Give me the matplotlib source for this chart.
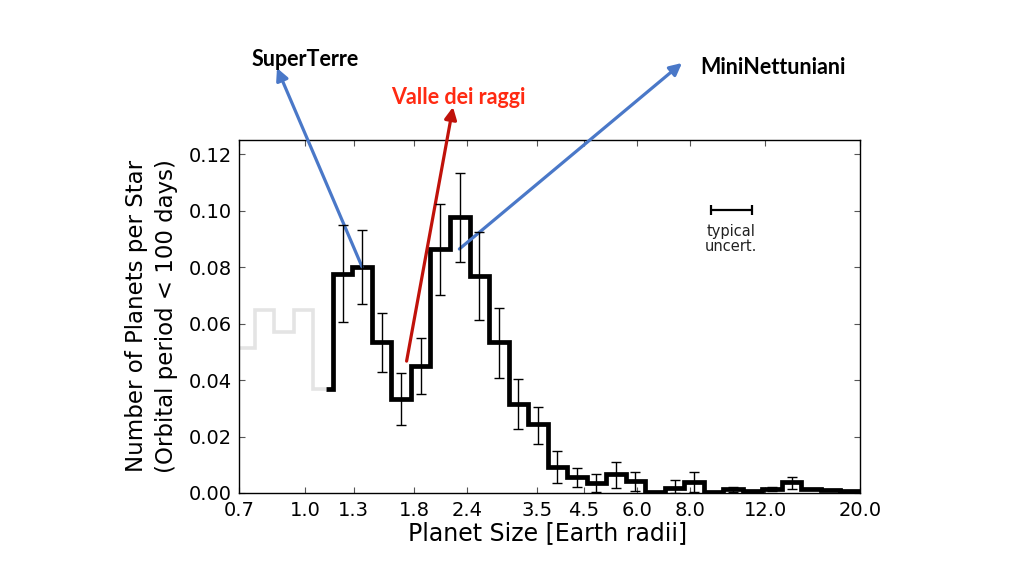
import matplotlib
matplotlib.use("Agg")
import matplotlib.pyplot as plt
import numpy as np

# ---------------- data ----------------
bin_edges = [0.6859, 0.7622, 0.8469, 0.9410, 1.0456, 1.1618, 1.2910, 1.4345,
             1.5939, 1.7711, 1.9680, 2.1867, 2.4298, 2.6998, 2.9999, 3.3334,
             3.7039, 4.1156, 4.5730, 5.0813, 5.6461, 6.2737, 6.9710, 7.7458,
             8.6068, 9.5634, 10.626, 11.808, 13.120, 14.578, 16.199, 17.999,
             20.000]
occurrence = [0.0513, 0.0648, 0.0570, 0.0648, 0.0370, 0.0775, 0.0800, 0.0536,
              0.0333, 0.0450, 0.0864, 0.0978, 0.0769, 0.0534, 0.0315, 0.0243,
              0.0093, 0.0056, 0.0034, 0.0067, 0.0042, 0.0003, 0.0017, 0.0040,
              0.0005, 0.0013, 0.0006, 0.0015, 0.0038, 0.0013, 0.0009, 0.0006]
err_low = [np.nan, np.nan, np.nan, np.nan, np.nan, 0.0604, 0.0670, 0.0427,
           0.0240, 0.0350, 0.0702, 0.0819, 0.0612, 0.0408, 0.0225, 0.0173,
           0.0037, 0.0022, 0.0002, 0.0017, 0.0008, np.nan, 0.0000, 0.0005,
           np.nan, 0.0004, np.nan, 0.0008, 0.0013, np.nan, np.nan, np.nan]
err_high = [np.nan, np.nan, np.nan, np.nan, np.nan, 0.0949, 0.0931, 0.0638,
            0.0424, 0.0550, 0.1023, 0.1134, 0.0925, 0.0656, 0.0404, 0.0306,
            0.0149, 0.0087, 0.0067, 0.0111, 0.0073, np.nan, 0.0045, 0.0075,
            np.nan, 0.0022, np.nan, 0.0022, 0.0057, np.nan, np.nan, np.nan]
completeness_cut = 1.12          # below this radius the histogram is grey
x_ticks = [0.7, 1.0, 1.3, 1.8, 2.4, 3.5, 4.5, 6.0, 8.0, 12.0, 20.0]
y_ticks = [0.00, 0.02, 0.04, 0.06, 0.08, 0.10, 0.12]
typical_uncert_x = [8.95, 11.15]
typical_uncert_y = 0.1002

# ---------------- figure ----------------
plt.rcParams['font.family'] = ['DejaVu Sans']
fig = plt.figure(figsize=(10.24, 5.85), dpi=100)
W, H = 1024, 585
ax = fig.add_axes([239 / W, 1 - 493 / H, (860 - 239) / W, (493 - 140) / H])

edges = np.array(bin_edges)
vals = np.array(occurrence)
n_grey = int(np.searchsorted(edges, completeness_cut))  # bins starting below cut

# grey part
g_edges = np.append(edges[:n_grey], completeness_cut)
g_vals = vals[:n_grey]
ax.stairs(g_vals, g_edges, baseline=None, color='#e4e4e4', lw=2.6)

# black part
b_edges = np.insert(edges[n_grey:], 0, completeness_cut)
b_vals = vals[n_grey - 1:]
sp = ax.stairs(b_vals, b_edges, baseline=None, color='black', lw=3.4, zorder=3)
sp.set_joinstyle('miter')

# error bars at geometric bin centres
centers = np.sqrt(edges[:-1] * edges[1:])
lo = np.array(err_low)
hi = np.array(err_high)
ok = ~np.isnan(lo)
ax.errorbar(centers[ok], vals[ok], yerr=[vals[ok] - lo[ok], hi[ok] - vals[ok]],
            fmt='none', ecolor='black', elinewidth=1.0, capsize=3.5,
            capthick=1.0, zorder=4)

# typical uncertainty marker
tc = np.sqrt(typical_uncert_x[0] * typical_uncert_x[1])
ax.errorbar([tc], [typical_uncert_y],
            xerr=[[tc - typical_uncert_x[0]], [typical_uncert_x[1] - tc]],
            fmt='none', ecolor='black', elinewidth=1.6, capsize=3.5,
            capthick=1.6)
ax.text(tc, 0.0910, 'typical', ha='center', va='baseline', fontsize=10.5,
        color='#222222')
ax.text(tc, 0.0856, 'uncert.', ha='center', va='baseline', fontsize=10.5,
        color='#222222')

ax.set_xscale('log')
ax.set_xlim(0.7, 20.0)
ax.set_ylim(0, 0.125)
ax.set_xticks(x_ticks)
ax.set_xticklabels([f'{v:.1f}' for v in x_ticks])
ax.xaxis.set_minor_locator(matplotlib.ticker.NullLocator())
ax.set_yticks(y_ticks)
ax.set_yticklabels([f'{v:.2f}' for v in y_ticks])
ax.tick_params(axis='both', which='major', direction='in', length=4,
               width=0.8, top=True, right=True, labelsize=14, color='#555555')
ax.tick_params(axis='x', pad=6)
ax.tick_params(axis='y', pad=5)
for s in ax.spines.values():
    s.set_linewidth(1.0)

# axis labels
fig.text(548 / W, 1 - 533 / H, 'Planet Size [Earth radii]', ha='center',
         va='center', fontsize=17)
fig.text(137 / W, 1 - 316 / H, 'Number of Planets per Star', ha='center',
         va='center', rotation=90, fontsize=16.5)
fig.text(167 / W, 1 - 316 / H, '(Orbital period < 100 days)', ha='center',
         va='center', rotation=90, fontsize=16.5)

# annotations
def fig_frac(px, py):
    return (px / W, 1 - py / H)

ann_font = dict(family=['Lato', 'DejaVu Sans'], weight='bold', fontsize=15.5)
fig.text(*fig_frac(252, 66), 'SuperTerre', ha='left', va='baseline',
         color='black', **ann_font)
fig.text(*fig_frac(391, 104), 'Valle dei raggi', ha='left', va='baseline',
         color='#ff2a12', **ann_font)
fig.text(*fig_frac(700, 74), 'MiniNettuniani', ha='left', va='baseline',
         color='black', **ann_font)

arrow_kw = dict(arrowstyle='-|>', lw=2.3, mutation_scale=18,
                shrinkA=0, shrinkB=0)
ax.annotate('', xy=fig_frac(277, 68), xycoords='figure fraction',
            xytext=(1.36, 0.0801), textcoords='data',
            arrowprops=dict(color='#4a78c8', **arrow_kw), annotation_clip=False)
ax.annotate('', xy=fig_frac(453, 107), xycoords='figure fraction',
            xytext=(1.73, 0.0467), textcoords='data',
            arrowprops=dict(color='#c0120a', **arrow_kw), annotation_clip=False)
ax.annotate('', xy=fig_frac(682, 63), xycoords='figure fraction',
            xytext=(2.30, 0.0864), textcoords='data',
            arrowprops=dict(color='#4a78c8', **arrow_kw), annotation_clip=False)

fig.savefig('out.png', dpi=100)
